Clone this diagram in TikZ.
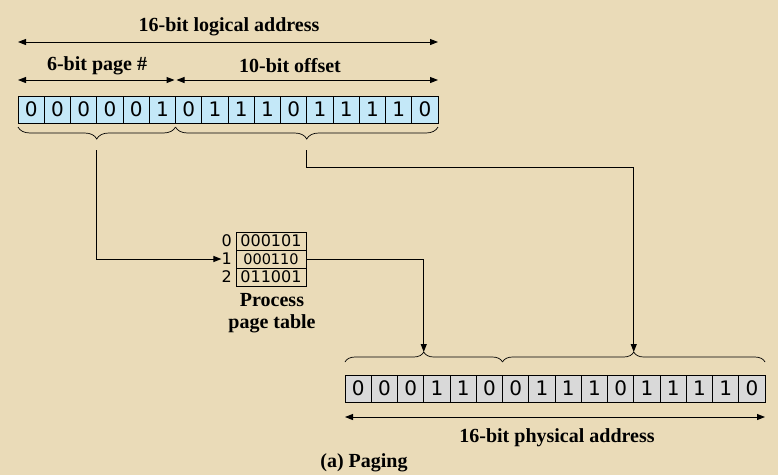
\documentclass[tikz,border=0pt]{standalone}
\usepackage{fontspec}
\setmainfont{Liberation Serif}
\newfontfamily\bitfont{DejaVu Sans}
\usetikzlibrary{arrows.meta,positioning,decorations.pathreplacing}
\definecolor{Parchment}{HTML}{EADBB8}
\definecolor{LogBlue}{HTML}{C4E8F8}
\definecolor{PhysGray}{HTML}{D9D9D9}

\begin{document}
\begin{tikzpicture}[
  x=1pt,y=-1pt,
  bit/.style={draw,line width=0.8pt,inner sep=0pt,outer sep=0pt,
              minimum width=26.25pt,minimum height=27pt,
              font=\bitfont\fontsize{20}{20}\selectfont},
  row/.style={draw,line width=0.8pt,inner sep=0pt,outer sep=0pt,
              minimum width=70pt,minimum height=18pt,
              font=\bitfont\fontsize{16}{16}\selectfont},
  idx/.style={inner sep=0pt,font=\bitfont\fontsize{16}{16}\selectfont},
  lbl/.style={font=\bfseries\fontsize{20}{22}\selectfont,align=center,inner sep=1pt},
  dim/.style={{Triangle[length=8pt,width=6pt]}-{Triangle[length=8pt,width=6pt]},line width=1pt},
  fl/.style={-{Triangle[length=8pt,width=6pt]},line width=1pt},
  brc/.style={decorate,decoration={brace,amplitude=12pt},line width=0.7pt}
]
\fill[Parchment] (0,0) rectangle (778,475);
\useasboundingbox (0,0) rectangle (778,475);

% logical address register
\foreach \b [count=\i] in {0,0,0,0,0,1,0,1,1,1,0,1,1,1,1,0}
  \node[bit,fill=LogBlue,anchor=north west] (l\i) at ({18+(\i-1)*26.25},96) {\b};

\node[lbl] (logtxt) at (229,27) {16-bit logical address};
\draw[dim] ([yshift=54pt]l1.north west) -- ([yshift=54pt]l16.north east);
\node[lbl] (pagetxt) at (97,66) {6-bit page \#};
\node[lbl] (offtxt) at (290,66) {10-bit offset};
\draw[dim,shorten >=1pt] ([yshift=16pt]l1.north west) -- ([yshift=16pt]l6.north east);
\draw[dim,shorten <=1pt] ([yshift=16pt]l7.north west) -- ([yshift=16pt]l16.north east);

\draw[brc] ([yshift=-4pt]l6.south east) -- ([yshift=-4pt]l1.south west);
\draw[brc] ([yshift=-4pt]l16.south east) -- ([yshift=-4pt]l7.south west);
\coordinate (pgtip) at ([yshift=-27pt]l3.south east);
\coordinate (offtip) at ([yshift=-27pt]l11.south east);

% page table
\node[row] (t0) at (271,241) {000101};
\node[row,below=0pt of t0,font=\bitfont\fontsize{14.5}{14.5}\selectfont] (t1) {000110};
\node[row,below=0pt of t1] (t2) {011001};
\node[idx,left=4pt of t0] (r0) {0};
\node[idx,left=4pt of t1] (r1) {1};
\node[idx,left=4pt of t2] (r2) {2};
\node[lbl] (pttxt) at (272,313) {Process\\page table};

% physical address register
\foreach \b [count=\i] in {0,0,0,1,1,0,0,1,1,1,0,1,1,1,1,0}
  \node[bit,fill=PhysGray,anchor=north west] (p\i) at ({345+(\i-1)*26.25},375) {\b};

\draw[brc,decoration={amplitude=10pt}] ([yshift=13pt]p1.north west) -- ([yshift=13pt]p6.north east);
\draw[brc,decoration={amplitude=10pt}] ([yshift=13pt]p7.north west) -- ([yshift=13pt]p16.north east);
\coordinate (frtip) at ([yshift=23pt]p3.north east);
\coordinate (phoff) at ([yshift=23pt]p11.north east);

\draw[dim] ([yshift=-15pt]p1.south west) -- ([yshift=-15pt]p16.south east);
\node[lbl] (phtxt) at (557,438) {16-bit physical address};
\node[lbl] (cap) at (364,463) {(a) Paging};

% connectors
\draw[fl] (pgtip) |- (r1.west);
\draw[fl] (t1.east) -| (frtip);
\draw[fl] (offtip) -- ++(0,17) -| (phoff);
\end{tikzpicture}
\end{document}
